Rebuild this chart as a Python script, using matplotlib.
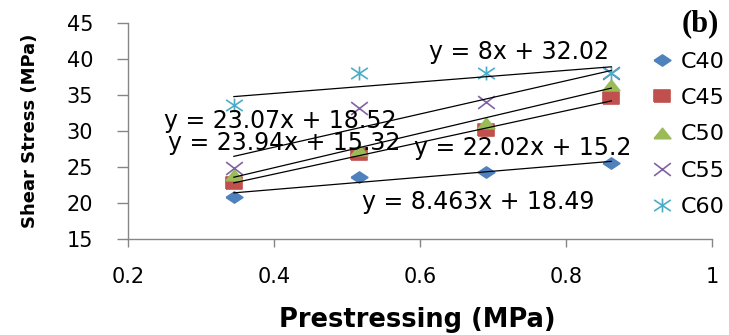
import numpy as np
import matplotlib
matplotlib.use('Agg')
import matplotlib.pyplot as plt
from matplotlib.path import Path

plt.rcParams['font.family'] = 'DejaVu Sans'

# prestressing levels (MPa)
prestress = [0.345, 0.517, 0.69, 0.862]

series_names = ['C40', 'C45', 'C50', 'C55', 'C60']
c40 = [20.8, 23.6, 24.3, 25.5]
c45 = [22.8, 26.8, 30.1, 34.6]
c50 = [23.9, 27.4, 31.1, 36.4]
c55 = [24.9, 33.2, 34.0, 38.0]
c60 = [33.6, 38.1, 38.1, 38.1]

# trendline equations shown on the chart
slopes = [8.463, 22.02, 23.94, 23.07, 8.0]
intercepts = [18.49, 15.2, 15.32, 18.52, 32.02]
eq_labels = ['y = 8.463x + 18.49', 'y = 22.02x + 15.2', 'y = 23.94x + 15.32',
             'y = 23.07x + 18.52', 'y = 8x + 32.02']

x_ticks = [0.2, 0.4, 0.6, 0.8, 1.0]
x_tick_labels = ['0.2', '0.4', '0.6', '0.8', '1']
y_ticks = [15, 20, 25, 30, 35, 40, 45]

colors = ['#4F81BD', '#C0504D', '#9BBB59', '#8064A2', '#4BACC6']

# wide markers, like the stretched excel picture
diamond = Path([(-1.5, 0), (0, 1), (1.5, 0), (0, -1), (-1.5, 0)])
square = Path([(-1.3, -1), (1.3, -1), (1.3, 1), (-1.3, 1), (-1.3, -1)])
triangle = Path([(-1.6, -1), (1.6, -1), (0, 1), (-1.6, -1)])
cross = Path([(-1.3, -1), (1.3, 1), (-1.3, 1), (1.3, -1)],
             [Path.MOVETO, Path.LINETO, Path.MOVETO, Path.LINETO])
star = Path([(-1.2, -0.8), (1.2, 0.8), (-1.2, 0.8), (1.2, -0.8), (0, -1), (0, 1)],
            [Path.MOVETO, Path.LINETO, Path.MOVETO, Path.LINETO, Path.MOVETO, Path.LINETO])
markers = [diamond, square, triangle, cross, star]

fig = plt.figure(figsize=(7.29, 3.35), dpi=100)
ax = fig.add_axes([0.1756, 0.2866, 0.8011, 0.6447])

all_y = [c40, c45, c50, c55, c60]
handles = []
for i, ys in enumerate(all_y):
    h, = ax.plot(prestress, ys, linestyle='none', marker=markers[i], ms=12,
                 mfc=colors[i], mec=colors[i], mew=1.2, label=series_names[i], zorder=3)
    handles.append(h)
    # linear trendline over the data range
    xl = np.array([prestress[0], prestress[-1]])
    ax.plot(xl, slopes[i] * xl + intercepts[i], color='black', lw=0.9, zorder=4)

# equation label positions (data coords)
eq_pos = [(0.680, 20.1), (0.740, 27.6), (0.414, 28.3), (0.409, 31.4), (0.735, 41.0)]
for lab, (px, py) in zip(eq_labels, eq_pos):
    ax.text(px, py, lab, fontsize=17, ha='center', va='center', zorder=5)

ax.set_xlim(0.2, 1.0)
ax.set_ylim(15, 45)
ax.set_xticks(x_ticks)
ax.set_xticklabels(x_tick_labels)
ax.set_yticks(y_ticks)

for s in ['top', 'right']:
    ax.spines[s].set_visible(False)
for s in ['left', 'bottom']:
    ax.spines[s].set_color('#868686')
    ax.spines[s].set_linewidth(1.0)
ax.tick_params(axis='y', direction='out', length=8, width=1, color='#868686',
               labelsize=15, pad=17)
ax.tick_params(axis='x', direction='out', length=6, width=1, color='#868686',
               labelsize=15, pad=14)

fig.text(0.572, 0.045, 'Prestressing (MPa)', fontsize=18.5, fontweight='bold',
         ha='center', va='center')
fig.text(0.041, 0.61, 'Shear Stress (MPa)', fontsize=13, fontweight='bold',
         rotation=90, ha='center', va='center')
fig.text(0.960, 0.93, '(b)', fontsize=22, fontweight='bold', family='Liberation Serif',
         ha='center', va='center')

ax.legend(handles=handles, loc='upper left', bbox_to_anchor=(0.893, 0.845),
          bbox_transform=fig.transFigure, frameon=False, fontsize=16,
          handlelength=1.0, handletextpad=0.35, labelspacing=0.73,
          borderpad=0, borderaxespad=0, markerscale=1.0)

fig.savefig('out.png', dpi=100)
